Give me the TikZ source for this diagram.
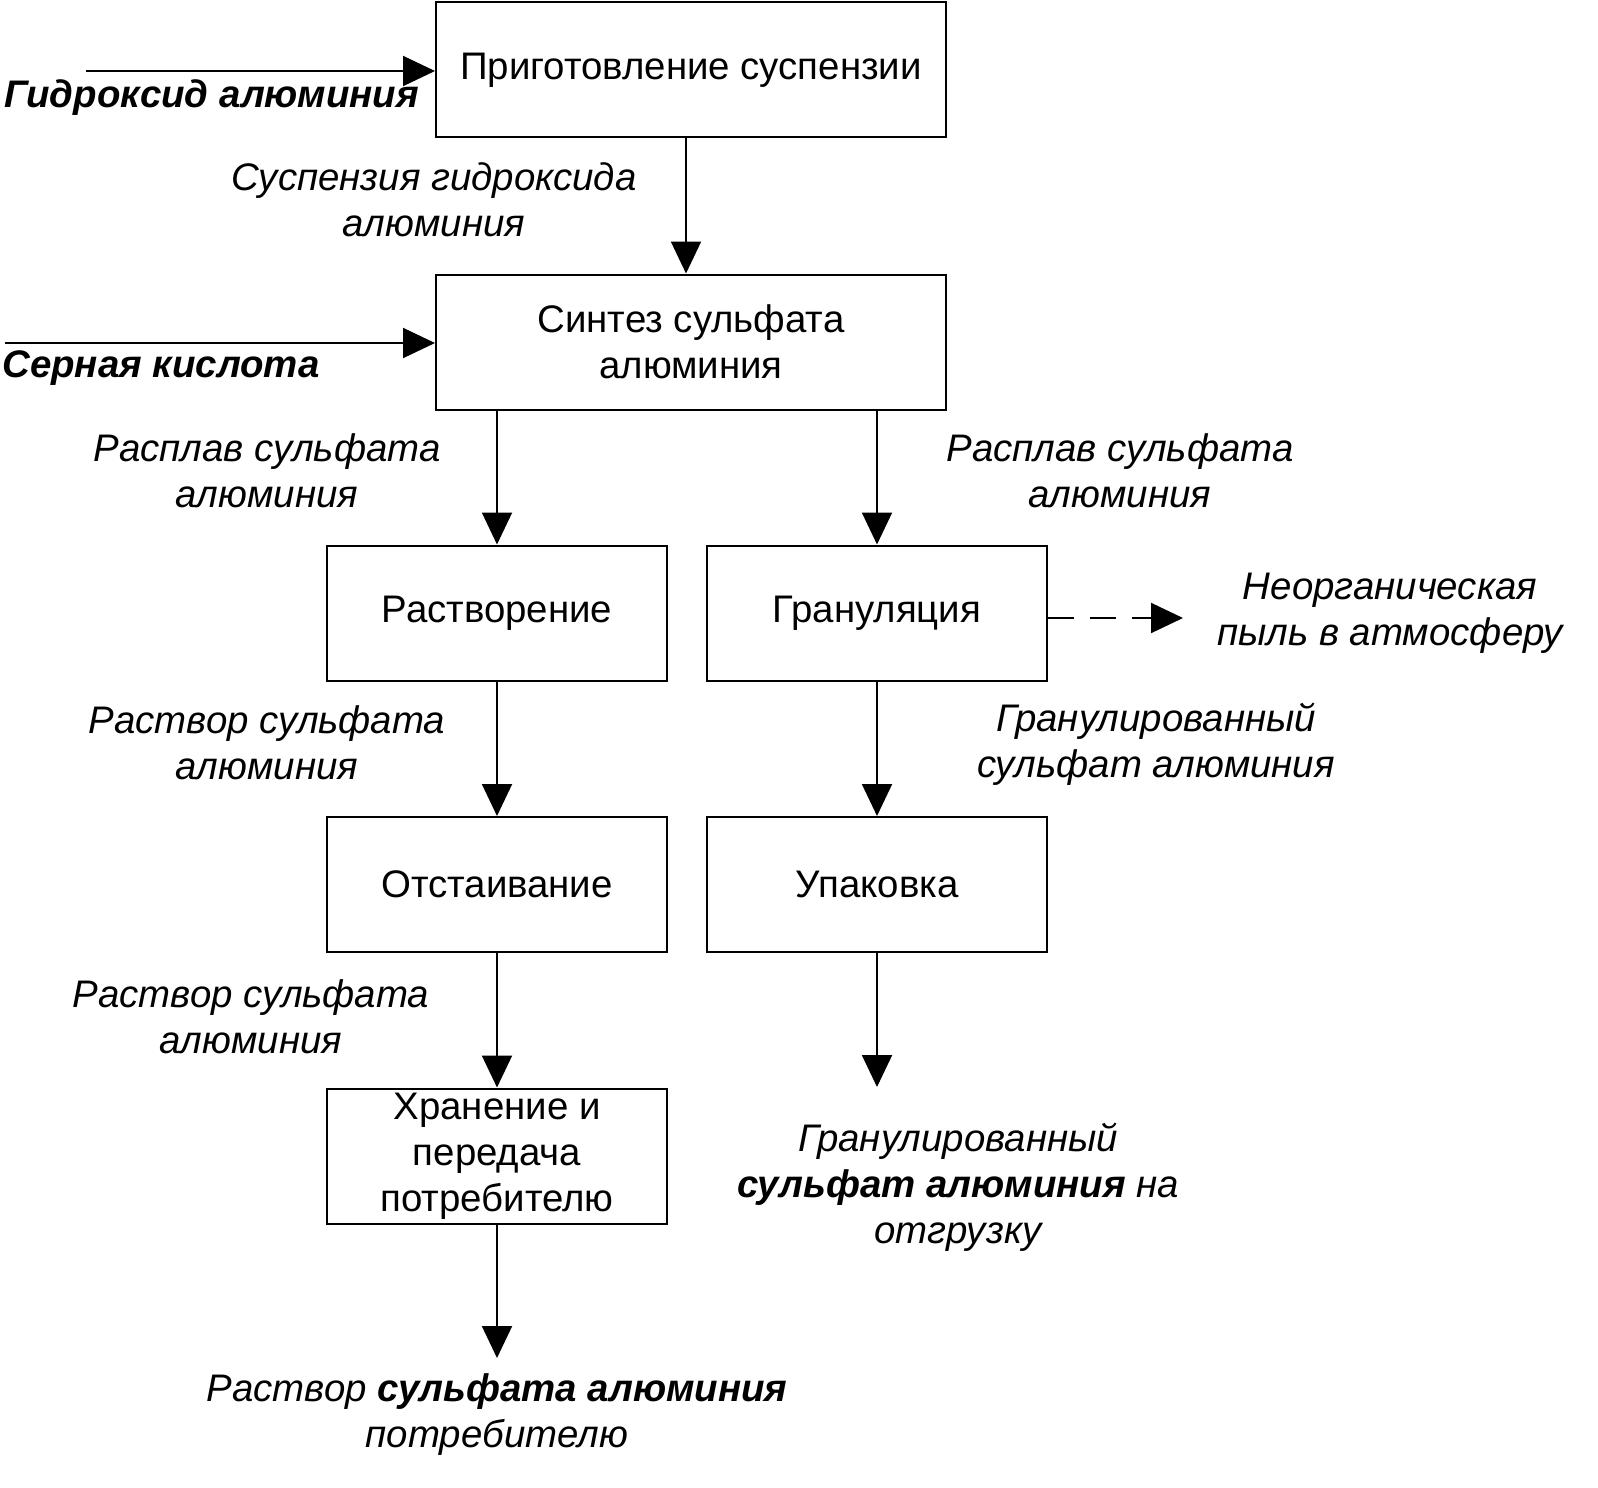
\documentclass[tikz,border=0pt]{standalone}
\usepackage{fontspec}
\setmainfont{Liberation Sans}
\usetikzlibrary{arrows.meta}
\begin{document}
\begin{tikzpicture}[x=0.5pt,y=-0.5pt,
  box/.style={draw, line width=1pt, minimum height=67.5pt, align=center,
    inner sep=0pt, font=\fontsize{19.2}{23}\selectfont},
  bigbox/.style={box, minimum width=255pt},
  smallbox/.style={box, minimum width=170pt},
  lbl/.style={align=center, inner sep=0pt, font=\fontsize{19.2}{23}\selectfont\itshape},
  inlbl/.style={inner sep=0pt, anchor=west, font=\fontsize{19.2}{23}\selectfont\bfseries\itshape},
  arr/.style={line width=1pt, -{Triangle[length=16pt,width=15pt]}}]
\useasboundingbox (0,0) rectangle (1598,1487);
% boxes
\node[bigbox] (b1) at (691,70) {Приготовление суспензии};
\node[bigbox] (b2) at (691,342) {Синтез сульфата\\алюминия};
\node[smallbox] (b3) at (497,613) {Растворение};
\node[smallbox] (b4) at (877,613) {Грануляция};
\node[smallbox] (b5) at (497,884.5) {Отстаивание};
\node[smallbox] (b6) at (877,884.5) {Упаковка};
\node[smallbox] (b7) at (497,1156) {Хранение и\\передача\\потребителю};
% coordinates
\coordinate (in1) at (86,71);
\coordinate (in2) at (5,343);
\coordinate (x1) at (686,0);
\coordinate (dend) at (1183,618);
\coordinate (e6) at (877,1087);
\coordinate (e7) at (497,1358);
% connectors
\draw[arr] (in1) -- (in1 -| b1.west);
\draw[arr] (in2) -- (in2 -| b2.west);
\draw[arr] (b1.south -| x1) -- (b2.north -| x1);
\draw[arr] (b2.south -| b3.north) -- (b3.north);
\draw[arr] (b2.south -| b4.north) -- (b4.north);
\draw[arr] (b3.south) -- (b5.north);
\draw[arr] (b4.south) -- (b6.north);
\draw[arr] (b5.south) -- (b7.north);
\draw[arr] (b6.south) -- (e6);
\draw[arr] (b7.south) -- (e7);
\draw[arr, dash pattern=on 13pt off 8pt] (dend -| b4.east) -- (dend);
% labels
\node[inlbl] (l1) at (4,98) {Гидроксид алюминия};
\node[inlbl] (l2) at (2,368) {Серная кислота};
\node[lbl] (l3) at (434,200) {Суспензия гидроксида\\алюминия};
\node[lbl] (l4) at (267,471) {Расплав сульфата\\алюминия};
\node[lbl] (l5) at (1120,471) {Расплав сульфата\\алюминия};
\node[lbl] (l6) at (1390,613) {Неорганическая\\пыль в атмосферу};
\node[lbl] (l7) at (267,743) {Раствор сульфата\\алюминия};
\node[lbl] (l8) at (1156,744) {Гранулированный\\сульфат алюминия};
\node[lbl] (l9) at (251,1017) {Раствор сульфата\\алюминия};
\node[lbl] (l10) at (958,1187) {Гранулированный\\\textbf{сульфат алюминия} на\\отгрузку};
\node[lbl] (l11) at (497,1415) {Раствор \textbf{сульфата алюминия}\\потребителю};
\end{tikzpicture}
\end{document}
